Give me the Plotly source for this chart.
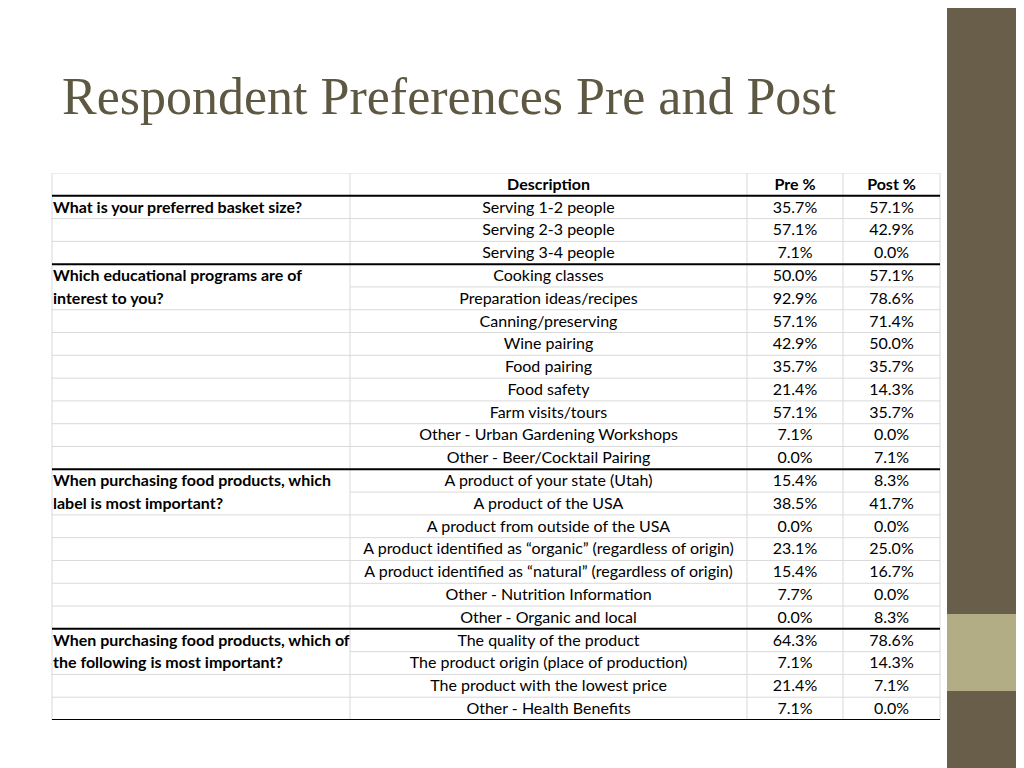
import plotly.graph_objects as go

# table contents, one entry per data row
questions = [
    "What is your preferred basket size?", "", "",
    "Which educational programs are of", "interest to you?", "", "", "", "", "", "", "",
    "When purchasing food products, which", "label is most important?", "", "", "", "", "",
    "When purchasing food products, which of", "the following is most important?", "", "",
]
descriptions = [
    "Serving 1-2 people", "Serving 2-3 people", "Serving 3-4 people",
    "Cooking classes", "Preparation ideas/recipes", "Canning/preserving", "Wine pairing",
    "Food pairing", "Food safety", "Farm visits/tours", "Other - Urban Gardening Workshops",
    "Other - Beer/Cocktail Pairing",
    "A product of your state (Utah)", "A product of the USA", "A product from outside of the USA",
    "A product identified as “organic” (regardless of origin)",
    "A product identified as “natural” (regardless of origin)",
    "Other - Nutrition Information", "Other - Organic and local",
    "The quality of the product", "The product origin (place of production)",
    "The product with the lowest price", "Other - Health Benefits",
]
pre = [35.7, 57.1, 7.1, 50.0, 92.9, 57.1, 42.9, 35.7, 21.4, 57.1, 7.1, 0.0,
       15.4, 38.5, 0.0, 23.1, 15.4, 7.7, 0.0, 64.3, 7.1, 21.4, 7.1]
post = [57.1, 42.9, 0.0, 57.1, 78.6, 71.4, 50.0, 35.7, 14.3, 35.7, 0.0, 7.1,
        8.3, 41.7, 0.0, 25.0, 16.7, 0.0, 8.3, 78.6, 14.3, 7.1, 0.0]
headers = ["Description", "Pre %", "Post %"]
group_starts = [1, 4, 13, 20]

# the page has an 8px body margin, so the figure is drawn from (8, 8)
OFF = 8
W, H = 1024 - OFF, 768 - OFF


def py(p):
    # page pixel row -> paper y
    return 1 - (p - OFF) / H


n_rows = len(descriptions) + 1
col_edges = [52, 350, 747, 843, 940]
centers = [(col_edges[i] + col_edges[i + 1]) / 2 for i in range(4)]
TXT = 0.56  # text sits a little below the cell middle
ys = [i + 1 + TXT for i in range(len(descriptions))]

FONT = "Lato"
SIZE = 16
fig = go.Figure()

fig.add_trace(go.Scatter(
    x=centers[1:], y=[TXT] * 3, mode="text",
    text=["<b>%s</b>" % h for h in headers],
    textfont=dict(family=FONT, size=SIZE, color="black"), hoverinfo="skip"))
fig.add_trace(go.Scatter(
    x=[col_edges[0] + 1] * len(questions), y=ys, mode="text",
    text=["<b>%s</b>" % q if q else "" for q in questions], textposition="middle right",
    textfont=dict(family=FONT, size=SIZE, color="black"), hoverinfo="skip"))
fig.add_trace(go.Scatter(
    x=[centers[1]] * len(descriptions), y=ys, mode="text", text=descriptions,
    textfont=dict(family=FONT, size=SIZE, color="black"), hoverinfo="skip"))
fig.add_trace(go.Scatter(
    x=[centers[2]] * len(pre), y=ys, mode="text", text=["%.1f%%" % v for v in pre],
    textfont=dict(family=FONT, size=SIZE, color="black"), hoverinfo="skip"))
fig.add_trace(go.Scatter(
    x=[centers[3]] * len(post), y=ys, mode="text", text=["%.1f%%" % v for v in post],
    textfont=dict(family=FONT, size=SIZE, color="black"), hoverinfo="skip"))

shapes = []
light = dict(color="#d9d9d9", width=1)
heavy = dict(color="black", width=2)
# horizontal rules
for r in range(n_rows + 1):
    if r in group_starts or r == n_rows:
        shapes.append(dict(type="line", xref="x", yref="y", x0=col_edges[0], x1=col_edges[-1],
                           y0=r, y1=r, line=heavy))
    else:
        # a two-line question label keeps its first column cell open
        x0 = col_edges[0]
        if 2 <= r < n_rows and questions[r - 2] and questions[r - 1]:
            x0 = col_edges[1]
        shapes.append(dict(type="line", xref="x", yref="y", x0=x0, x1=col_edges[-1],
                           y0=r, y1=r, line=light, layer="below"))
# vertical rules
for x in col_edges:
    shapes.append(dict(type="line", xref="x", yref="y", x0=x, x1=x, y0=0, y1=n_rows,
                       line=light, layer="below"))

# side panel of the slide
shapes.append(dict(type="rect", xref="x", yref="paper", x0=947, x1=1024, y0=0, y1=1,
                   fillcolor="#695e4a", line=dict(width=0), layer="below"))
shapes.append(dict(type="rect", xref="x", yref="paper", x0=947, x1=1024,
                   y0=py(691), y1=py(614),
                   fillcolor="#b3ad86", line=dict(width=0), layer="below"))

fig.update_layout(
    width=W, height=H, margin=dict(l=0, r=0, t=0, b=0),
    paper_bgcolor="white", plot_bgcolor="rgba(0,0,0,0)", showlegend=False,
    shapes=shapes,
    xaxis=dict(range=[OFF, 1024], domain=[0, 1], visible=False, fixedrange=True),
    yaxis=dict(range=[n_rows, 0], domain=[py(720), py(173)], visible=False,
               fixedrange=True),
    annotations=[dict(
        text="Respondent Preferences Pre and Post", xref="x", yref="paper",
        x=60, y=py(97), xanchor="left", yanchor="middle", showarrow=False,
        font=dict(family="Liberation Serif", size=52, color="#5e5742"))],
)

fig.write_html("out.html")
